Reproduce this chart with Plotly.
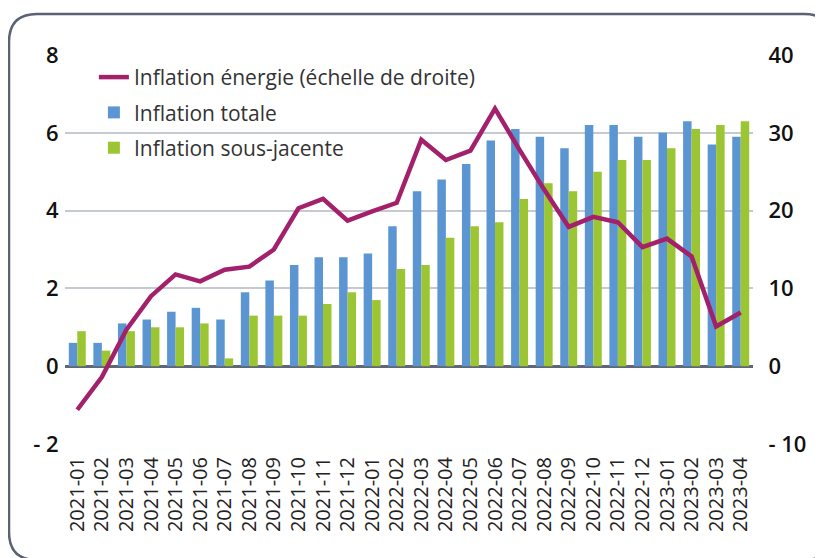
import plotly.graph_objects as go

months = ["2021-01","2021-02","2021-03","2021-04","2021-05","2021-06","2021-07","2021-08",
          "2021-09","2021-10","2021-11","2021-12","2022-01","2022-02","2022-03","2022-04",
          "2022-05","2022-06","2022-07","2022-08","2022-09","2022-10","2022-11","2022-12",
          "2023-01","2023-02","2023-03","2023-04"]
inflation_totale = [0.6,0.6,1.1,1.2,1.4,1.5,1.2,1.9,2.2,2.6,2.8,2.8,2.9,3.6,4.5,4.8,
                    5.2,5.8,6.1,5.9,5.6,6.2,6.2,5.9,6.0,6.3,5.7,5.9]
inflation_sous_jacente = [0.9,0.4,0.9,1.0,1.0,1.1,0.2,1.3,1.3,1.3,1.6,1.9,1.7,2.5,2.6,3.3,
                          3.6,3.7,4.3,4.7,4.5,5.0,5.3,5.3,5.6,6.1,6.2,6.3]
inflation_energie = [-5.6,-1.4,4.7,9.0,11.8,10.9,12.4,12.8,15.0,20.3,21.5,18.7,19.9,21.0,
                     29.1,26.5,27.7,33.1,27.8,22.7,17.9,19.2,18.5,15.3,16.4,14.1,5.1,6.9]
left_ticks = [-2, 0, 2, 4, 6, 8]
left_ticktext = ["- 2", "0", "2", "4", "6", "8"]
right_ticks = [-10, 0, 10, 20, 30, 40]
right_ticktext = ["- 10", "0", "10", "20", "30", "40"]

# page has an 8px body margin; figure coordinates below are relative to the figure
W, H = 815, 550
L, R, T, B = 57, 745, 47, 436

fig = go.Figure()
fig.add_trace(go.Scatter(x=months, y=inflation_energie, name="Inflation énergie (échelle de droite)",
                         mode="lines", line=dict(color="#a3206a", width=4.5), yaxis="y2",
                         legendgroup="a"))
fig.add_trace(go.Bar(x=months, y=inflation_totale, name="Inflation totale",
                     marker=dict(color="#5b96d3", line=dict(width=0)), legendgroup="b"))
fig.add_trace(go.Bar(x=months, y=inflation_sous_jacente, name="Inflation sous-jacente",
                     marker=dict(color="#9bc532", line=dict(width=0)), legendgroup="c"))

def px(x):
    return (x - L) / (R - L)
def py(y):
    return (B - y) / (B - T)

x0, y0, x1, y1, r = 1, 6, 824, 552, 28
path = (f"M {px(x0)},{py(y0+r)} Q {px(x0)},{py(y0)} {px(x0+r)},{py(y0)} "
        f"L {px(x1-r)},{py(y0)} Q {px(x1)},{py(y0)} {px(x1)},{py(y0+r)} "
        f"L {px(x1)},{py(y1-r)} Q {px(x1)},{py(y1)} {px(x1-r)},{py(y1)} "
        f"L {px(x0+r)},{py(y1)} Q {px(x0)},{py(y1)} {px(x0)},{py(y1-r)} Z")

tickfont = dict(size=22, family="Open Sans", color="#111", weight=600)

fig.update_layout(
    width=W, height=H,
    margin=dict(l=L, r=W - R, t=T, b=H - B, autoexpand=False),
    paper_bgcolor="white", plot_bgcolor="white",
    barmode="group", bargap=0.31, bargroupgap=0,
    font=dict(family="Open Sans", color="#222"),
    showlegend=True,
    legend=dict(x=0.042, y=0.995, xanchor="left", yanchor="top",
                bgcolor="rgba(0,0,0,0)", font=dict(size=21, color="#333"),
                traceorder="grouped", tracegroupgap=5),
    xaxis=dict(type="category", tickangle=-90,
               tickfont=dict(size=20, family="Open Sans", color="#222"),
               showgrid=False, showline=False, ticks="outside", ticklen=4,
               tickcolor="rgba(0,0,0,0)"),
    yaxis=dict(range=[-2, 8], tickvals=left_ticks, ticktext=left_ticktext,
               tickfont=tickfont,
               showgrid=True, gridcolor="#c4c9d2", gridwidth=1.5,
               zeroline=True, zerolinecolor="#5f6675", zerolinewidth=2.5,
               showline=False, ticks="outside", ticklen=1, tickcolor="rgba(0,0,0,0)"),
    yaxis2=dict(range=[-10, 40], tickvals=right_ticks, ticktext=right_ticktext,
                overlaying="y", side="right", showgrid=False, zeroline=False,
                tickfont=tickfont, ticks="outside", ticklen=10,
                tickcolor="rgba(0,0,0,0)"),
    shapes=[dict(type="path", xref="paper", yref="paper", path=path,
                 line=dict(color="#5b6273", width=2.5), layer="above")],
)

fig.write_html("out.html")
